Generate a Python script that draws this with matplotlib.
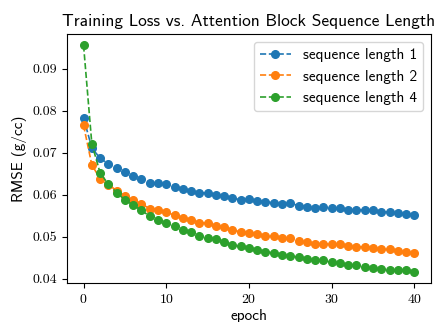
import matplotlib
matplotlib.use("Agg")
import matplotlib.pyplot as plt
import numpy as np

epochs = list(range(41))
seq1 = [0.0783, 0.0711, 0.0687, 0.0673, 0.0663, 0.0654, 0.0645, 0.0638, 0.0629, 0.0627,
        0.0625, 0.0619, 0.0613, 0.0609, 0.0605, 0.0604, 0.0600, 0.0597, 0.0592, 0.0588,
        0.0590, 0.0586, 0.0583, 0.0581, 0.0578, 0.0580, 0.0574, 0.0572, 0.0569, 0.0570,
        0.0568, 0.0569, 0.0564, 0.0564, 0.0564, 0.0563, 0.0559, 0.0559, 0.0556, 0.0554,
        0.0552]
seq2 = [0.0765, 0.0671, 0.0638, 0.0624, 0.0610, 0.0597, 0.0587, 0.0578, 0.0567, 0.0564,
        0.0559, 0.0551, 0.0544, 0.0540, 0.0534, 0.0532, 0.0526, 0.0523, 0.0516, 0.0512,
        0.0510, 0.0507, 0.0503, 0.0501, 0.0497, 0.0497, 0.0491, 0.0488, 0.0484, 0.0484,
        0.0482, 0.0482, 0.0477, 0.0476, 0.0476, 0.0474, 0.0470, 0.0470, 0.0467, 0.0463,
        0.0461]
seq4 = [0.0955, 0.0721, 0.0652, 0.0625, 0.0605, 0.0588, 0.0575, 0.0563, 0.0549, 0.0540,
        0.0532, 0.0526, 0.0516, 0.0511, 0.0503, 0.0498, 0.0495, 0.0487, 0.0480, 0.0478,
        0.0473, 0.0468, 0.0464, 0.0462, 0.0457, 0.0454, 0.0452, 0.0447, 0.0444, 0.0444,
        0.0439, 0.0437, 0.0432, 0.0432, 0.0429, 0.0427, 0.0424, 0.0421, 0.0421, 0.0421,
        0.0417]
labels = ["sequence length 1", "sequence length 2", "sequence length 4"]

plt.rcParams['font.family'] = ['cmss10', 'DejaVu Sans']
plt.rcParams['axes.formatter.use_mathtext'] = True
plt.rcParams['axes.unicode_minus'] = False

fig = plt.figure(figsize=(4.41, 3.22), dpi=100)
ax = fig.add_axes([0.152, 0.121, 0.825, 0.773])
for s, lab in zip([seq1, seq2, seq4], labels):
    ax.plot(epochs, s, '--o', markersize=5.5, linewidth=1.2, label=lab)

ax.set_title("Training Loss vs. Attention Block Sequence Length", fontsize=12.5)
ax.set_xlabel("epoch", fontsize=11, labelpad=2)
ax.set_ylabel("RMSE (g/cc)", fontsize=11, labelpad=4)
ax.set_xticks([0, 10, 20, 30, 40])
ax.set_yticks([0.04, 0.05, 0.06, 0.07, 0.08, 0.09])
ax.set_yticklabels(["0.04", "0.05", "0.06", "0.07", "0.08", "0.09"])
for t in ax.get_xticklabels() + ax.get_yticklabels():
    t.set_fontfamily('cmr10')
    t.set_fontsize(10)
ax.legend(fontsize=11, loc='upper right')
fig.savefig("out.png", dpi=100)
